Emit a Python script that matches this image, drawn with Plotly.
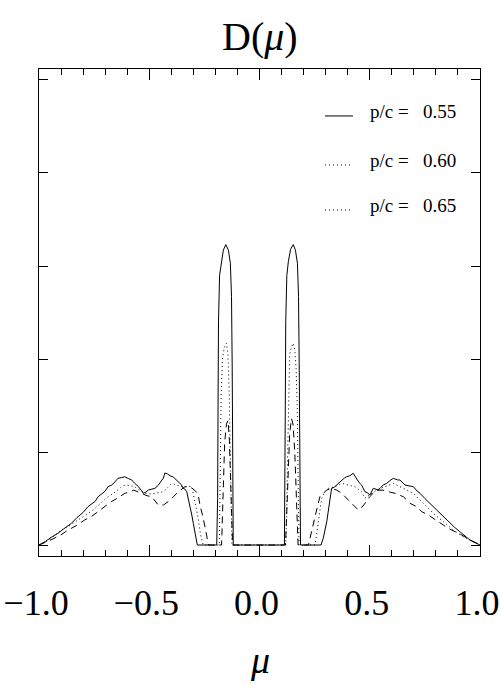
import plotly.graph_objects as go

# ---------------- data ----------------
pc_values = [0.55, 0.60, 0.65]

mu_055 = [-1.0, -0.97, -0.94, -0.914, -0.89, -0.87, -0.853, -0.83, -0.81, -0.80, -0.778, -0.76,
          -0.745, -0.732, -0.715, -0.70, -0.687, -0.67, -0.655, -0.642, -0.625, -0.611, -0.595,
          -0.58, -0.566, -0.55, -0.535, -0.527, -0.515, -0.504, -0.49, -0.474, -0.46, -0.445,
          -0.436, -0.429, -0.418, -0.406, -0.39, -0.378, -0.368, -0.355, -0.346, -0.338, -0.330,
          -0.323, -0.315, -0.307, -0.30, -0.293, -0.285, -0.282, -0.194,
          -0.190, -0.188, -0.186, -0.181, -0.173, -0.164, -0.153, -0.141, -0.132, -0.127, -0.124,
          -0.122, -0.119, 0.113,
          0.115, 0.117, 0.119, 0.124, 0.131, 0.141, 0.153, 0.163, 0.172, 0.177, 0.180, 0.182,
          0.186, 0.279, 0.289, 0.305, 0.312, 0.320, 0.327, 0.338, 0.350, 0.362, 0.373, 0.385,
          0.395, 0.41, 0.425, 0.433, 0.441, 0.452, 0.463, 0.478, 0.490, 0.501, 0.516, 0.527,
          0.539, 0.550, 0.561, 0.577, 0.584, 0.596, 0.607, 0.615, 0.626, 0.637, 0.660, 0.680,
          0.698, 0.715, 0.728, 0.750, 0.773, 0.795, 0.818, 0.840, 0.864, 0.885, 0.909, 0.930,
          0.954, 0.975, 1.0]
d_055 = [0.0, 0.04, 0.09, 0.126, 0.17, 0.20, 0.233, 0.29, 0.33, 0.35, 0.412, 0.44,
         0.47, 0.519, 0.55, 0.58, 0.627, 0.645, 0.68, 0.717, 0.725, 0.734, 0.715,
         0.70, 0.663, 0.63, 0.585, 0.556, 0.57, 0.591, 0.60, 0.61, 0.64, 0.69,
         0.72, 0.775, 0.765, 0.745, 0.73, 0.70, 0.681, 0.65, 0.61, 0.60, 0.573,
         0.502, 0.41, 0.323, 0.23, 0.143, 0.03, 0.0, 0.0,
         0.5, 1.5, 2.4, 2.9, 3.05, 3.17, 3.23, 3.17, 3.03, 2.67, 1.96,
         1.0, 0.0, 0.0,
         0.5, 1.5, 2.4, 2.9, 3.05, 3.18, 3.23, 3.17, 3.03, 2.67, 1.96, 1.0,
         0.0, 0.0, 0.072, 0.25, 0.358, 0.502, 0.61, 0.62, 0.645, 0.68, 0.699, 0.72,
         0.734, 0.745, 0.771, 0.74, 0.699, 0.67, 0.645, 0.573, 0.56, 0.538, 0.61, 0.60,
         0.591, 0.62, 0.645, 0.663, 0.681, 0.70, 0.717, 0.71, 0.70, 0.699, 0.645, 0.635,
         0.627, 0.58, 0.556, 0.50, 0.448, 0.40, 0.341, 0.29, 0.233, 0.19, 0.143, 0.10,
         0.054, 0.03, 0.0]

mu_060 = [-1.0, -0.95, -0.899, -0.86, -0.823, -0.79, -0.755, -0.72, -0.687, -0.66, -0.642, -0.618,
          -0.604, -0.585, -0.566, -0.557, -0.535, -0.519, -0.49, -0.46, -0.436, -0.415, -0.398,
          -0.37, -0.346, -0.325, -0.307, -0.293, -0.278, -0.267, -0.255, -0.182,
          -0.178, -0.174, -0.168, -0.160, -0.150, -0.143, -0.137, -0.133, -0.129, -0.125, 0.119,
          0.123, 0.127, 0.131, 0.137, 0.144, 0.153, 0.160, 0.166, 0.171, 0.175, 0.179, 0.252,
          0.259, 0.267, 0.274, 0.282, 0.297, 0.312, 0.342, 0.373, 0.403, 0.433, 0.463, 0.478,
          0.50, 0.53, 0.569, 0.607, 0.652, 0.698, 0.743, 0.788, 0.834, 0.879, 0.924, 1.0]
d_060 = [0.0, 0.06, 0.161, 0.21, 0.269, 0.32, 0.376, 0.45, 0.519, 0.56, 0.591, 0.64,
         0.645, 0.64, 0.627, 0.61, 0.58, 0.556, 0.55, 0.56, 0.573, 0.62, 0.663,
         0.64, 0.627, 0.63, 0.627, 0.466, 0.287, 0.108, 0.0, 0.0,
         0.8, 1.6, 2.0, 2.12, 2.17, 2.05, 1.6, 0.9, 0.3, 0.0, 0.0,
         0.3, 0.9, 1.6, 2.05, 2.12, 2.17, 2.1, 1.9, 1.5, 0.8, 0.0, 0.0,
         0.108, 0.25, 0.358, 0.502, 0.573, 0.61, 0.627, 0.663, 0.645, 0.627, 0.573, 0.502,
         0.54, 0.59, 0.627, 0.663, 0.61, 0.556, 0.448, 0.341, 0.251, 0.161, 0.09, 0.0]

mu_065 = [-1.0, -0.95, -0.90, -0.868, -0.83, -0.793, -0.76, -0.732, -0.70, -0.672, -0.64, -0.611,
          -0.59, -0.57, -0.54, -0.51, -0.489, -0.474, -0.459, -0.436, -0.414, -0.39, -0.368,
          -0.338, -0.31, -0.29, -0.278, -0.27, -0.255, -0.24, -0.232, -0.172,
          -0.165, -0.158, -0.150, -0.143, -0.137, -0.131, -0.126, -0.122, 0.118,
          0.123, 0.130, 0.137, 0.145, 0.152, 0.160, 0.167, 0.175, 0.222,
          0.229, 0.244, 0.259, 0.274, 0.282, 0.305, 0.327, 0.35, 0.373, 0.395, 0.425, 0.448,
          0.47, 0.50, 0.53, 0.56, 0.59, 0.615, 0.652, 0.683, 0.713, 0.736, 0.766, 0.79, 0.811,
          0.834, 0.856, 0.887, 0.917, 0.955, 1.0]
d_065 = [0.0, 0.05, 0.11, 0.161, 0.21, 0.269, 0.31, 0.358, 0.41, 0.466, 0.51, 0.556,
         0.57, 0.59, 0.56, 0.53, 0.52, 0.47, 0.43, 0.43, 0.466, 0.52, 0.573,
         0.627, 0.62, 0.58, 0.54, 0.43, 0.287, 0.108, 0.0, 0.0,
         0.6, 1.1, 1.3, 1.34, 1.15, 0.7, 0.2, 0.0, 0.0,
         0.3, 0.8, 1.2, 1.36, 1.3, 1.0, 0.5, 0.0, 0.0,
         0.072, 0.25, 0.376, 0.52, 0.538, 0.591, 0.61, 0.59, 0.556, 0.502, 0.43, 0.376,
         0.42, 0.52, 0.59, 0.59, 0.57, 0.556, 0.52, 0.448, 0.412, 0.358, 0.323, 0.28, 0.251,
         0.215, 0.179, 0.143, 0.108, 0.054, 0.0]

x_tickvals = [-1.0, -0.5, 0.0, 0.5, 1.0]
y_tickvals = [0, 1, 2, 3, 4, 5]
legend_labels = ["p/c =\u00a0\u00a0\u00a0%.2f" % v for v in pc_values]
legend_dash = ["solid", "1px,3px", "1px,3px"]

# ---------------- figure ----------------
FONT = "Liberation Serif"
fig = go.Figure()
series = [(mu_055, d_055, "solid"), (mu_060, d_060, "1px,3px"), (mu_065, d_065, "7px,5px")]
for (mx, dy, dash), lab in zip(series, legend_labels):
    fig.add_trace(go.Scatter(x=mx, y=dy, mode="lines", name=lab, showlegend=False,
                             line=dict(color="black", width=1, dash=dash)))

# legend (annotation text + sample lines in paper coordinates)
row_y = [0.9123, 0.8111, 0.7187]
line_y = [0.9036, 0.8029, 0.7105]
for lab, ty, ly, dash in zip(legend_labels, row_y, line_y, legend_dash):
    fig.add_annotation(xref="paper", yref="paper", x=0.746, y=ty, text=lab, showarrow=False,
                       xanchor="left", yanchor="middle",
                       font=dict(family=FONT, size=19, color="black"))
    fig.add_shape(type="line", xref="paper", yref="paper", x0=0.6485, x1=0.712, y0=ly, y1=ly,
                  line=dict(color="black", width=1, dash=dash))

# title and x-axis label
fig.add_annotation(xref="paper", yref="paper", x=0.5, y=1 + (69 - 37) / 487, text="D(<i>μ</i>)",
                   showarrow=False, xanchor="center", yanchor="middle",
                   font=dict(family=FONT, size=40, color="black"))
fig.add_annotation(xref="paper", yref="paper", x=0.5, y=-(660 - 556) / 487, text="<i>μ</i>",
                   showarrow=False, xanchor="center", yanchor="middle",
                   font=dict(family=FONT, size=38, color="black"))

fig.update_layout(
    template="none",
    width=500, height=685,
    margin=dict(l=39, r=20, t=69, b=129, pad=0),
    paper_bgcolor="white", plot_bgcolor="white",
    showlegend=False,
    xaxis=dict(range=[-1, 1], tickvals=x_tickvals, tickformat=".1f", automargin=False,
               ticks="inside", ticklen=11, tickwidth=1, tickcolor="black",
               showline=True, linecolor="black", linewidth=1, mirror="allticks",
               showgrid=False, zeroline=False,
               minor=dict(dtick=0.1, tick0=0, ticks="inside", ticklen=6, tickcolor="black",
                          tickwidth=1, showgrid=False),
               tickfont=dict(family=FONT, size=36, color="black"),
               ticklabelstandoff=15, ticklabelshift=-3, ticklabeloverflow="allow"),
    yaxis=dict(range=[-0.118, 5.118], tickvals=y_tickvals, showticklabels=False,
               automargin=False,
               ticks="inside", ticklen=9, tickwidth=1, tickcolor="black",
               showline=True, linecolor="black", linewidth=1, mirror="allticks",
               showgrid=False, zeroline=False),
)

fig.write_html("out.html")
